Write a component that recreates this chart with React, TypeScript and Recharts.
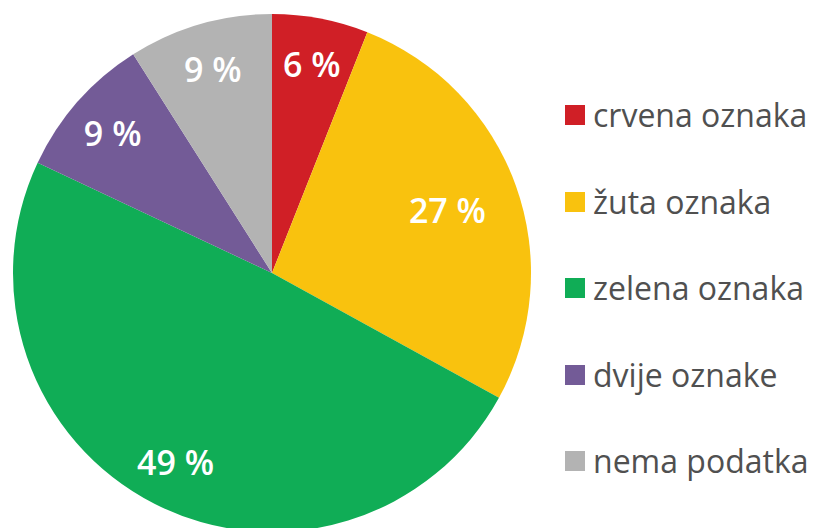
import { PieChart, Pie, Cell, Legend } from "recharts";

// Share of products by label colour. Pie starts at 12 o'clock, goes clockwise.

const categories = ["crvena oznaka", "žuta oznaka", "zelena oznaka", "dvije oznake", "nema podatka"];
const shares = [6, 27, 49, 9, 9];
const colors = ["#d01f26", "#f9c20e", "#10ad56", "#735b97", "#b3b3b3"];

const data = categories.map((name, i) => ({ name, value: shares[i] }));

const RADIAN = Math.PI / 180;
const FONT = "'Open Sans', sans-serif";

function renderLabel(props: any) {
  const { cx, cy, midAngle, outerRadius, value, index } = props;
  const k = index === 1 ? 0.72 : 0.82;
  const r = outerRadius * k;
  const x = cx + r * Math.cos(-midAngle * RADIAN);
  const y = cy + r * Math.sin(-midAngle * RADIAN);
  return (
    <text
      x={x}
      y={y}
      fill="#ffffff"
      textAnchor="middle"
      dominantBaseline="central"
      fontFamily={FONT}
      fontSize={34}
      fontWeight={600}
    >
      {`${value} %`}
    </text>
  );
}

function LegendList() {
  return (
    <div style={{ fontFamily: FONT }}>
      {data.map((d, i) => (
        <div
          key={d.name}
          style={{ height: 86.5, display: "flex", alignItems: "center" }}
        >
          <span
            style={{
              width: 20,
              height: 20,
              background: colors[i],
              marginRight: 8,
              flex: "none",
            }}
          />
          <span style={{ fontSize: 32, color: "#505050", lineHeight: 1 }}>{d.name}</span>
        </div>
      ))}
    </div>
  );
}

export default function App() {
  return (
    <div style={{ position: "absolute", left: 0, top: 0, background: "#fff" }}>
      <PieChart width={814} height={528} margin={{ top: 0, right: 0, bottom: 0, left: 0 }}>
        <Pie
          data={data}
          dataKey="value"
          nameKey="name"
          cx={272}
          cy={273}
          outerRadius={259}
          startAngle={90}
          endAngle={-270}
          stroke="none"
          label={renderLabel}
          labelLine={false}
          isAnimationActive={false}
        >
          {data.map((d, i) => (
            <Cell key={d.name} fill={colors[i]} />
          ))}
        </Pie>
        <Legend
          content={<LegendList />}
          layout="vertical"
          wrapperStyle={{ position: "absolute", left: 565, top: 72, width: 249 }}
        />
      </PieChart>
    </div>
  );
}
